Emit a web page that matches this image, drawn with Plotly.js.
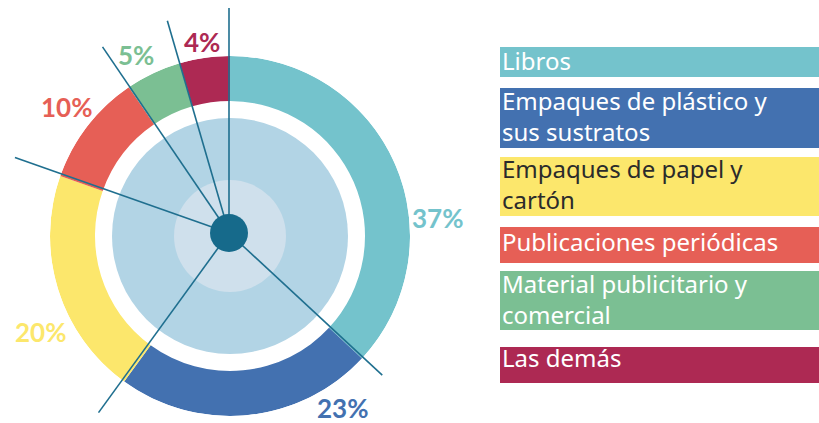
<!DOCTYPE html>
<html>
<head>
<meta charset="utf-8">
<script src="https://cdn.plot.ly/plotly-3.0.1.min.js"></script>
<style>html,body{margin:0;padding:0;background:#fff;}#chart{width:819px;height:423px;}</style>
</head>
<body>
<div id="chart"></div>
<script>
// ---- data ----
const categories = ['Libros', 'Empaques de plástico y sus sustratos', 'Empaques de papel y cartón',
  'Publicaciones periódicas', 'Material publicitario y comercial', 'Las demás'];
const legendLabels = ['Libros', 'Empaques de plástico y<br>sus sustratos', 'Empaques de papel y<br>cartón',
  'Publicaciones periódicas', 'Material publicitario y<br>comercial', 'Las demás'];
// slice shares (labels are the published rounded figures)
const values = [36.9, 23.1, 20.4, 10.1, 5.0, 4.5];
const pctLabels = ['37%', '23%', '20%', '10%', '5%', '4%'];
const colors = ['#74c3cc', '#4371b0', '#fce76c', '#e65f56', '#7bbf93', '#ad2953'];

// ---- layout constants (pixels) ----
const W = 819, H = 423;
const cx = 230, cy = 236, R = 180;     // ring centre / outer radius
const dx0 = 229, dy0 = 233;            // hub of the spokes
const ringInner = 135;
const px = x => x / W;
const py = y => 1 - y / H;
const lineLen = [225, 209, 222, 227, 225, 221];
const labelPos = [[437, 218], [342, 408], [40, 332], [66, 107], [136, 55], [202, 42]];
const legendBoxes = [[47, 77], [88, 148], [157, 216], [227, 263], [271, 330], [347, 383]];
const legendTextY = [61, 116, 184, 241, 299, 357];
const legendText = ['#ffffff', '#ffffff', '#2b2b2b', '#ffffff', '#ffffff', '#ffffff'];

// ---- angles from data ----
const total = values.reduce((a, b) => a + b, 0);
const spans = values.map(v => v / total * 360);
const starts = [];
let acc = 0;
spans.forEach(s => { starts.push(acc); acc += s; });
const mids = spans.map((s, i) => starts[i] + s / 2);
const rad = d => d * Math.PI / 180;

const traces = [];
// invisible anchor so the pixel-scaled cartesian axes exist
traces.push({type: 'scatter', mode: 'markers', x: [dx0], y: [dy0], marker: {size: 1, opacity: 0},
  hoverinfo: 'skip', showlegend: false});
traces.push({
  type: 'barpolar', r: values.map(() => R - ringInner), base: values.map(() => ringInner),
  theta: mids, width: spans, marker: {color: colors, line: {width: 0}},
  hoverinfo: 'skip', showlegend: false
});
// background discs
traces.push({type: 'scatterpolar', mode: 'markers', r: [0], theta: [0],
  marker: {size: 236, color: '#b2d4e5', line: {width: 0}}, hoverinfo: 'skip', showlegend: false, cliponaxis: false});
traces.push({type: 'scatterpolar', mode: 'markers', r: [0], theta: [0],
  marker: {size: 112, color: '#cfe0ec', line: {width: 0}}, hoverinfo: 'skip', showlegend: false, cliponaxis: false});

const annotations = [];
const shapes = [];
// spokes at slice boundaries, on pixel-scaled axes
starts.forEach((a, i) => {
  shapes.push({type: 'line', xref: 'x', yref: 'y', layer: 'above',
    x0: dx0, y0: dy0, x1: dx0 + lineLen[i] * Math.sin(rad(a)), y1: dy0 - lineLen[i] * Math.cos(rad(a)),
    line: {color: '#1f6f8f', width: 1.6}});
});
// hub dot
shapes.push({type: 'circle', xref: 'x', yref: 'y', layer: 'above',
  x0: dx0 - 19, x1: dx0 + 19, y0: dy0 - 19, y1: dy0 + 19, fillcolor: '#166a8b', line: {width: 0}});

pctLabels.forEach((t, i) => {
  annotations.push({xref: 'paper', yref: 'paper', x: px(labelPos[i][0]), y: py(labelPos[i][1]),
    xanchor: 'center', yanchor: 'middle', showarrow: false, text: '<b>' + t + '</b>',
    font: {family: 'Lato, sans-serif', size: 26, color: colors[i]}});
});
legendLabels.forEach((t, i) => {
  const [t0, t1] = legendBoxes[i];
  shapes.push({type: 'rect', xref: 'paper', yref: 'paper', x0: px(500), x1: 1, y0: py(t1), y1: py(t0),
    fillcolor: colors[i], line: {width: 0}, layer: 'below'});
  annotations.push({xref: 'paper', yref: 'paper', x: px(500), y: py(legendTextY[i]),
    xanchor: 'left', yanchor: 'middle', align: 'left', showarrow: false, text: t,
    font: {family: 'Noto Sans, sans-serif', size: 24, color: legendText[i]}});
});

const layout = {
  width: W, height: H, margin: {l: 0, r: 0, t: 0, b: 0},
  paper_bgcolor: '#ffffff', plot_bgcolor: 'rgba(0,0,0,0)', showlegend: false,
  xaxis: {range: [0, W], domain: [0, 1], visible: false, fixedrange: true},
  yaxis: {range: [H, 0], domain: [0, 1], visible: false, fixedrange: true},
  polar: {
    domain: {x: [px(cx - R), px(cx + R)], y: [py(cy + R), py(cy - R)]},
    bgcolor: 'rgba(0,0,0,0)',
    radialaxis: {range: [0, R], visible: false, showgrid: false},
    angularaxis: {rotation: 90, direction: 'clockwise', visible: false, showgrid: false},
    hole: 0, bargap: 0
  },
  annotations: annotations, shapes: shapes
};
Plotly.newPlot('chart', traces, layout, {displayModeBar: false, staticPlot: true});
</script>
</body>
</html>
